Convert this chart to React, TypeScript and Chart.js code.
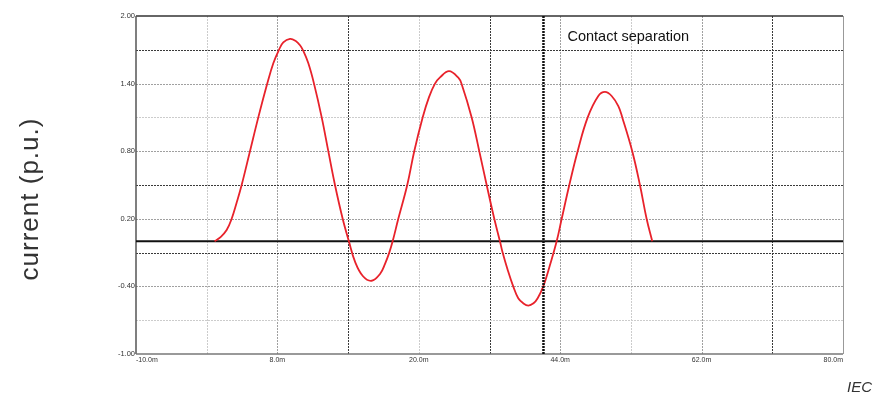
import React, { useEffect, useRef } from 'react';
import { Chart, registerables } from 'chart.js';

Chart.register(...registerables);

// ---- data ----
const timeMs = [
  0, 0.8, 1.54, 2.18, 2.8, 3.45, 4.51, 5.57, 6.71, 7.48,
  8.2, 8.75, 9.6, 10.3, 10.88, 11.3, 11.94, 12.66, 13.64, 14.48,
  15.33, 16.31, 17.1, 17.88, 18.9, 20.0, 21.06, 21.7, 22.24, 22.67,
  23.39, 24.53, 25.42, 26.49, 27.3, 28.06, 28.7, 29.85, 31.03, 31.46,
  32.73, 33.7, 34.64, 35.61, 36.33, 36.67, 37.3, 38.02, 38.66, 39.3,
  39.94, 40.6, 41.13, 41.85, 42.7, 43.55, 44.19, 45.16, 46.22, 47.5,
  48.85, 49.7, 50.55, 51.4, 51.9, 53.17, 54.15, 55.0, 55.72,
];
const currentPu = [
  0, 0.04, 0.1, 0.2, 0.34, 0.5, 0.8, 1.1, 1.4, 1.58,
  1.7, 1.765, 1.797, 1.78, 1.74, 1.69, 1.58, 1.4, 1.1, 0.8,
  0.5, 0.2, 0, -0.18, -0.31, -0.35, -0.29, -0.2, -0.1, 0,
  0.2, 0.5, 0.8, 1.1, 1.28, 1.4, 1.455, 1.51, 1.452, 1.395,
  1.1, 0.8, 0.5, 0.2, 0, -0.1, -0.25, -0.4, -0.505, -0.55,
  -0.57, -0.55, -0.505, -0.4, -0.21, 0, 0.2, 0.5, 0.8, 1.1,
  1.29, 1.326, 1.29, 1.2, 1.1, 0.8, 0.5, 0.2, 0,
];
const xGridValues = [-10, -1, 8, 17, 26, 35, 44, 53, 62, 71, 80];
const xTickLabels = ['-10.0m', '', '8.0m', '', '20.0m', '', '44.0m', '', '62.0m', '', '80.0m'];
const yGridValues = [-1, -0.7, -0.4, -0.1, 0.2, 0.5, 0.8, 1.1, 1.4, 1.7, 2.0];
const yTickLabels = ['-1.00', '', '-0.40', '', '0.20', '', '0.80', '', '1.40', '', '2.00'];
const contactSeparationMs = 41.87;
const annotationText = 'Contact separation';
const yAxisTitle = 'current (p.u.)';
const sourceText = 'IEC';

// ---- styles ----
const darkX = new Set([17, 35, 71]);
const mediumX = new Set([8, 44, 62]);
const darkY = new Set([1.7, 0.5, -0.1]);
const mediumY = new Set([1.4, 0.8, 0.2, -0.4]);
const FONT = '"Liberation Sans", Arial, sans-serif';

export default function App() {
  const ref = useRef<HTMLCanvasElement>(null);

  useEffect(() => {
    document.body.style.margin = '0';
    const canvas = ref.current!;

    const overlay = {
      id: 'overlay',
      beforeDatasetsDraw(chart: any) {
        const { ctx, chartArea: a, scales } = chart;
        const xs = scales.x;
        const ys = scales.y;
        ctx.save();
        ctx.lineWidth = 1;
        xGridValues.forEach((v) => {
          if (v === xGridValues[0] || v === xGridValues[xGridValues.length - 1]) return;
          const px = Math.round(xs.getPixelForValue(v)) + 0.5;
          ctx.strokeStyle = darkX.has(v) ? '#3a3a3a' : mediumX.has(v) ? '#a0a0a0' : '#cccccc';
          ctx.setLineDash([2, 1]);
          ctx.beginPath();
          ctx.moveTo(px, a.top);
          ctx.lineTo(px, a.bottom);
          ctx.stroke();
        });
        yGridValues.forEach((v) => {
          if (v === yGridValues[0] || v === yGridValues[yGridValues.length - 1]) return;
          const py = Math.round(ys.getPixelForValue(v)) + 0.5;
          ctx.strokeStyle = darkY.has(v) ? '#3a3a3a' : mediumY.has(v) ? '#a0a0a0' : '#cccccc';
          ctx.setLineDash([2, 1]);
          ctx.beginPath();
          ctx.moveTo(a.left, py);
          ctx.lineTo(a.right, py);
          ctx.stroke();
        });
        ctx.setLineDash([]);
        ctx.strokeStyle = '#333';
        ctx.lineWidth = 1.5;
        ctx.beginPath();
        ctx.moveTo(a.left, a.top);
        ctx.lineTo(a.right, a.top);
        ctx.stroke();
        ctx.strokeStyle = '#555';
        ctx.beginPath();
        ctx.moveTo(a.left, a.top);
        ctx.lineTo(a.left, a.bottom);
        ctx.stroke();
        ctx.strokeStyle = '#777';
        ctx.beginPath();
        ctx.moveTo(a.left, a.bottom);
        ctx.lineTo(a.right, a.bottom);
        ctx.stroke();
        ctx.strokeStyle = '#999';
        ctx.lineWidth = 1;
        ctx.beginPath();
        ctx.moveTo(a.right + 0.5, a.top);
        ctx.lineTo(a.right + 0.5, a.bottom);
        ctx.stroke();
        const y0 = ys.getPixelForValue(0);
        ctx.strokeStyle = '#111';
        ctx.lineWidth = 2;
        ctx.beginPath();
        ctx.moveTo(a.left, y0);
        ctx.lineTo(a.right, y0);
        ctx.stroke();
        ctx.restore();
      },
      afterDatasetsDraw(chart: any) {
        const { ctx, chartArea: a, scales } = chart;
        const xs = scales.x;
        const cx = xs.getPixelForValue(contactSeparationMs);
        ctx.save();
        ctx.strokeStyle = '#111';
        ctx.lineWidth = 2.5;
        ctx.setLineDash([2, 1]);
        ctx.beginPath();
        ctx.moveTo(cx, a.top);
        ctx.lineTo(cx, a.bottom);
        ctx.stroke();
        ctx.setLineDash([]);
        ctx.fillStyle = '#111';
        ctx.font = `14.5px ${FONT}`;
        ctx.textAlign = 'left';
        ctx.textBaseline = 'middle';
        ctx.fillText(annotationText, cx + 24, a.top + 21);
        ctx.save();
        ctx.translate(31, 199);
        ctx.rotate(-Math.PI / 2);
        ctx.fillStyle = '#333';
        ctx.font = `26px ${FONT}`;
        (ctx as any).letterSpacing = '1px';
        ctx.textAlign = 'center';
        ctx.textBaseline = 'middle';
        ctx.fillText(yAxisTitle, 0, 0);
        (ctx as any).letterSpacing = '0px';
        ctx.restore();
        ctx.fillStyle = '#333';
        ctx.font = `italic 15px ${FONT}`;
        ctx.textAlign = 'right';
        ctx.textBaseline = 'alphabetic';
        ctx.fillText(sourceText, 872, 392);
        ctx.restore();
      },
    };

    const chart = new Chart(canvas, {
      type: 'line',
      data: {
        datasets: [
          {
            data: timeMs.map((t, i) => ({ x: t, y: currentPu[i] })),
            borderColor: '#e8222b',
            borderWidth: 1.8,
            pointRadius: 0,
            tension: 0.4,
            fill: false,
          },
        ],
      },
      options: {
        responsive: false,
        animation: false,
        events: [],
        layout: { padding: { left: 0, right: 30, top: 16, bottom: 0 } },
        plugins: { legend: { display: false }, tooltip: { enabled: false } },
        scales: {
          x: {
            type: 'linear',
            min: -10,
            max: 80,
            afterBuildTicks: (s: any) => {
              s.ticks = xGridValues.map((v) => ({ value: v }));
            },
            afterFit: (s: any) => {
              s.height = 42;
            },
            grid: { display: false, drawTicks: false },
            border: { display: false },
            ticks: {
              autoSkip: false,
              maxRotation: 0,
              align: 'inner',
              padding: 2,
              color: '#333',
              font: { size: 7, family: FONT },
              callback: (_v: any, i: number) => xTickLabels[i],
            },
          },
          y: {
            type: 'linear',
            min: -1,
            max: 2,
            afterBuildTicks: (s: any) => {
              s.ticks = yGridValues.map((v) => ({ value: v }));
            },
            afterFit: (s: any) => {
              s.width = 136;
            },
            grid: { display: false, drawTicks: false },
            border: { display: false },
            ticks: {
              autoSkip: false,
              padding: 1,
              color: '#333',
              font: { size: 7.5, family: FONT },
              callback: (_v: any, i: number) => yTickLabels[i],
            },
          },
        },
      },
      plugins: [overlay],
    } as any);

    return () => chart.destroy();
  }, []);

  return (
    <div style={{ width: 873, height: 396 }}>
      <canvas ref={ref} width={873} height={396} style={{ display: 'block' }} />
    </div>
  );
}
